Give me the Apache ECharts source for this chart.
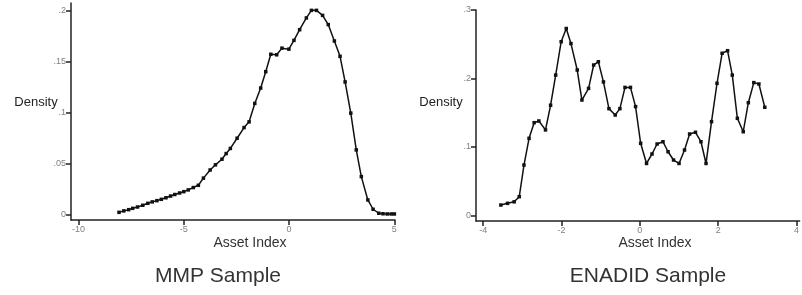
<!DOCTYPE html>
<html>
<head>
<meta charset="utf-8">
<script src="https://cdn.jsdelivr.net/npm/echarts@6/dist/echarts.min.js"></script>
<style>
  html, body { margin: 0; padding: 0; background: #fff; }
  #chart { width: 802px; height: 295px; }
</style>
</head>
<body>
<div id="chart"></div>
<script>
// MMP sample: kernel density of asset index
const mmpX = [-8.08, -7.85, -7.62, -7.43, -7.2, -6.95, -6.71, -6.5, -6.28, -6.07, -5.85, -5.63, -5.43,
  -5.2, -5.0, -4.79, -4.55, -4.31, -4.07, -3.75, -3.5, -3.19, -2.99, -2.79, -2.47, -2.14, -1.9,
  -1.63, -1.35, -1.11, -0.87, -0.59, -0.34, -0.01, 0.23, 0.5, 0.82, 1.06, 1.3, 1.59, 1.86,
  2.15, 2.42, 2.66, 2.93, 3.19, 3.43, 3.74, 3.99, 4.26, 4.46, 4.66, 4.85, 5.0];
const mmpY = [0.0026, 0.004, 0.0052, 0.0065, 0.0078, 0.0095, 0.0114, 0.0128, 0.014, 0.0153, 0.0168,
  0.0185, 0.020, 0.0215, 0.0228, 0.0245, 0.0268, 0.029, 0.036, 0.044, 0.049, 0.0545, 0.060,
  0.065, 0.075, 0.0854, 0.091, 0.109, 0.124, 0.140, 0.157, 0.1565, 0.163, 0.162, 0.1706,
  0.181, 0.1925, 0.1999, 0.1999, 0.195, 0.186, 0.170, 0.155, 0.130, 0.0995, 0.0636, 0.0375,
  0.0147, 0.0056, 0.0017, 0.0012, 0.001, 0.001, 0.001];

// ENADID sample
const enaX = [-3.55, -3.38, -3.21, -3.08, -2.96, -2.83, -2.70, -2.58, -2.41, -2.28, -2.15, -2.01,
  -1.88, -1.76, -1.60, -1.48, -1.31, -1.18, -1.06, -0.93, -0.79, -0.63, -0.51, -0.38, -0.24,
  -0.11, 0.02, 0.17, 0.31, 0.44, 0.59, 0.72, 0.86, 1.00, 1.14, 1.27, 1.42, 1.56, 1.69, 1.83,
  1.97, 2.10, 2.24, 2.36, 2.49, 2.64, 2.77, 2.91, 3.04, 3.19];
const enaY = [0.0153, 0.0178, 0.020, 0.0275, 0.0737, 0.1127, 0.1355, 0.138, 0.125, 0.161, 0.205,
  0.2537, 0.273, 0.251, 0.2124, 0.1686, 0.1856, 0.2197, 0.2245, 0.195, 0.156, 0.1467, 0.156,
  0.187, 0.187, 0.159, 0.1054, 0.076, 0.0898, 0.1044, 0.1077, 0.0931, 0.081, 0.076, 0.0956,
  0.119, 0.1215, 0.1077, 0.076, 0.137, 0.193, 0.2368, 0.2406, 0.205, 0.1419, 0.1223, 0.1647,
  0.194, 0.192, 0.158];

const mmpXTicks = [-10, -5, 0, 5];
const mmpYTicks = [0, 0.05, 0.1, 0.15, 0.2];
const enaXTicks = [-4, -2, 0, 2, 4];
const enaYTicks = [0, 0.1, 0.2, 0.3];

const pairs = (xs, ys) => xs.map((x, i) => [x, ys[i]]);
const fmt = v => (v === 0 ? '0' : String(v).replace('0.', '.'));

const FONT = '"Liberation Sans", Arial, sans-serif';
const lineStyle = { color: '#222', width: 1.5 };
const tickLabel = { color: '#808080', fontSize: 9, fontFamily: FONT, margin: 5 };

function xAxis(gridIndex, min, max, ticks) {
  return {
    type: 'value', gridIndex, min, max,
    axisLine: { onZero: false, lineStyle },
    axisTick: { length: 5, lineStyle, customValues: ticks },
    axisLabel: { ...tickLabel, customValues: ticks, formatter: v => String(v) },
    splitLine: { show: false }
  };
}
function yAxis(gridIndex, min, max, ticks) {
  return {
    type: 'value', gridIndex, min, max,
    axisLine: { show: true, onZero: false, lineStyle },
    axisTick: { show: true, length: 5, lineStyle, customValues: ticks },
    axisLabel: { ...tickLabel, customValues: ticks, formatter: fmt },
    splitLine: { show: false }
  };
}
function series(i, data) {
  return {
    type: 'line', xAxisIndex: i, yAxisIndex: i, data,
    symbol: 'rect', symbolSize: 3.5, showSymbol: true,
    lineStyle: { color: '#111', width: 1.5 },
    itemStyle: { color: '#111' },
    animation: false
  };
}
function text(x, y, str, size, color) {
  return {
    type: 'text', x, y,
    style: { text: str, fontSize: size, fontFamily: FONT, fill: color, align: 'center', verticalAlign: 'middle' }
  };
}

const chart = echarts.init(document.getElementById('chart'));
chart.setOption({
  animation: false,
  grid: [
    { left: 71, top: 3, width: 324, height: 217 },
    { left: 476, top: 10, width: 326, height: 211 }
  ],
  xAxis: [
    xAxis(0, -10.36, 5.03, mmpXTicks),
    xAxis(1, -4.185, 4.08, enaXTicks)
  ],
  yAxis: [
    yAxis(0, -0.0049, 0.2071, mmpYTicks),
    yAxis(1, -0.008, 0.3, enaYTicks)
  ],
  series: [
    series(0, pairs(mmpX, mmpY)),
    series(1, pairs(enaX, enaY))
  ],
  graphic: [
    text(36, 102, 'Density', 13, '#222'),
    text(441, 102, 'Density', 13, '#222'),
    text(250, 243, 'Asset Index', 14, '#333'),
    text(655, 243, 'Asset Index', 14, '#333'),
    text(218, 276, 'MMP Sample', 21, '#333'),
    text(648, 276, 'ENADID Sample', 21, '#333')
  ]
});
</script>
</body>
</html>
